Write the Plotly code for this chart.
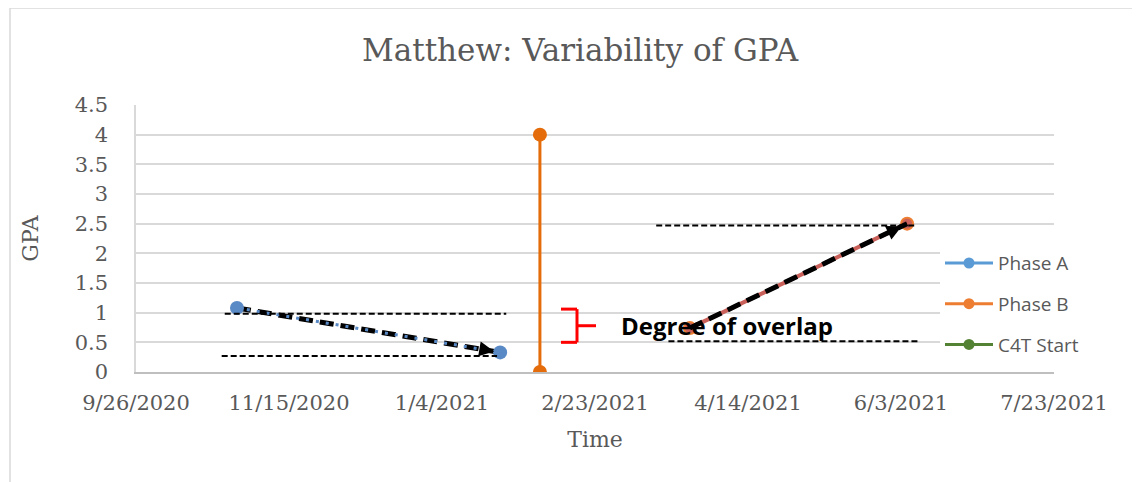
import plotly.graph_objects as go
import pandas as pd

# ---------------- data ----------------
phase_a_dates = ["2020-10-29", "2021-01-23"]
phase_a_gpa = [1.08, 0.33]

phase_b_dates = ["2021-02-05", "2021-02-05"]
phase_b_gpa = [0, 4]

c4t_dates = ["2021-03-26", "2021-06-05"]
c4t_gpa = [0.74, 2.5]

# variability bands (dashed reference lines)
a_band_upper_dates = ["2020-10-25", "2021-01-25"]
a_band_upper = 0.98
a_band_lower_dates = ["2020-10-24", "2021-01-22"]
a_band_lower = 0.27
b_band_upper_dates = ["2021-03-15", "2021-06-08"]
b_band_upper = 2.47
b_band_lower_dates = ["2021-03-19", "2021-06-09"]
b_band_lower = 0.52

overlap_top = 1.06
overlap_bottom = 0.5

x_tick_dates = ["2020-09-26", "2020-11-15", "2021-01-04", "2021-02-23",
                "2021-04-14", "2021-06-03", "2021-07-23"]
x_tick_labels = ["9/26/2020", "11/15/2020", "1/4/2021", "2/23/2021",
                 "4/14/2021", "6/3/2021", "7/23/2021"]
y_ticks = [0, 0.5, 1, 1.5, 2, 2.5, 3, 3.5, 4, 4.5]

# ---------------- layout geometry ----------------
OFF = 8  # page body margin
W, H = 1140 - OFF, 482 - OFF
ML = 136 - OFF
MT = 105 - OFF
PLOT_R = 1054 - OFF
PLOT_B = 371.7 - OFF
MR = W - PLOT_R
MB = H - PLOT_B
PW, PH = PLOT_R - ML, PLOT_B - MT
x0d, x1d = pd.Timestamp(x_tick_dates[0]), pd.Timestamp(x_tick_dates[-1])
ymax = 4.5
px_per_day = PW / (x1d - x0d).days
px_per_unit = PH / ymax


def px(x):  # reference pixel x -> paper x
    return (x - OFF - ML) / PW


def py(y):  # reference pixel y -> paper y
    return (PLOT_B - (y - OFF)) / PH


GRAY = "#595959"
SERIF = "DejaVu Serif"
SANS = "Open Sans"

BLUE = "#5A8AC6"
ORANGE = "#E46C0A"
RED = "#C9605A"
GREEN = "#548235"

fig = go.Figure()

# black dashed arrow shaft for phase A (beneath blue dotted line)
fig.add_trace(go.Scatter(x=phase_a_dates, y=phase_a_gpa, mode="lines",
                         line=dict(color="black", width=5, dash="14px,7px"),
                         showlegend=False, hoverinfo="skip"))
fig.add_trace(go.Scatter(x=phase_a_dates, y=phase_a_gpa, mode="lines+markers",
                         line=dict(color=BLUE, width=3, dash="3px,7px"),
                         marker=dict(color=BLUE, size=14),
                         showlegend=False, name="Phase A"))
fig.add_trace(go.Scatter(x=phase_b_dates, y=phase_b_gpa, mode="lines+markers",
                         line=dict(color=ORANGE, width=3),
                         marker=dict(color=ORANGE, size=14),
                         showlegend=False, name="Phase B"))
fig.add_trace(go.Scatter(x=c4t_dates, y=c4t_gpa, mode="lines+markers",
                         line=dict(color=RED, width=4),
                         marker=dict(color=RED, size=12, line=dict(color="#ED7D31", width=2)),
                         showlegend=False, name="C4T Start"))
fig.add_trace(go.Scatter(x=c4t_dates, y=c4t_gpa, mode="lines",
                         line=dict(color="black", width=5, dash="14px,7px"),
                         showlegend=False, hoverinfo="skip"))

# legend entries
for nm, col, grp in [("Phase A", "#5B9BD5", "a"), ("Phase B", "#ED7D31", "b"), ("C4T Start", GREEN, "c")]:
    fig.add_trace(go.Scatter(x=[None], y=[None], mode="lines+markers", name=nm,
                             line=dict(color=col, width=3),
                             marker=dict(color=col, size=11),
                             legendgroup=grp))

# dashed band lines
shapes = []
for dates, lvl in [(a_band_upper_dates, a_band_upper), (a_band_lower_dates, a_band_lower),
                   (b_band_upper_dates, b_band_upper), (b_band_lower_dates, b_band_lower)]:
    shapes.append(dict(type="line", xref="x", yref="y", x0=dates[0], x1=dates[1], y0=lvl, y1=lvl,
                       line=dict(color="black", width=2, dash="6px,3px"), layer="above"))

# red brace (degree of overlap)
bx0, bx1, bx2 = px(561), px(577), px(596)
ymid = (overlap_top + overlap_bottom) / 2
for a, b, c, d in [(bx0, bx1, overlap_top, overlap_top), (bx1, bx1, overlap_top, overlap_bottom),
                   (bx0, bx1, overlap_bottom, overlap_bottom), (bx1, bx2, ymid, ymid)]:
    shapes.append(dict(type="line", xref="paper", yref="y", x0=a, x1=b, y0=c, y1=d,
                       line=dict(color="red", width=3)))

# chart border
shapes.append(dict(type="rect", xref="paper", yref="paper",
                   x0=px(10), x1=px(1180), y0=py(520), y1=py(8),
                   line=dict(color="#D9D9D9", width=1.5), layer="below"))


def head(dates, vals):
    d0 = (pd.Timestamp(dates[0]) - x0d).days * px_per_day
    d1 = (pd.Timestamp(dates[1]) - x0d).days * px_per_day
    dx = d1 - d0
    dy = -(vals[1] - vals[0]) * px_per_unit
    ln = (dx ** 2 + dy ** 2) ** 0.5
    k = 20
    return dict(x=dates[1], y=vals[1], xref="x", yref="y", ax=-k * dx / ln, ay=-k * dy / ln,
                showarrow=True, arrowhead=2, arrowsize=1, arrowwidth=3, arrowcolor="black",
                standoff=6, text="")


annotations = [
    head(phase_a_dates, phase_a_gpa),
    head(c4t_dates, c4t_gpa),
    dict(x=px(727), y=ymid, xref="paper", yref="y", text="<b>Degree of overlap</b>",
         showarrow=False, font=dict(family=SANS, size=24, color="black")),
]

fig.update_layout(
    width=W, height=H,
    margin=dict(l=ML, r=MR, t=MT, b=MB, autoexpand=False),
    paper_bgcolor="white", plot_bgcolor="white",
    title=dict(text="Matthew: Variability of GPA", x=(580 - OFF) / W, xref="container", xanchor="center",
               y=1 - (50 - OFF) / H, yref="container", yanchor="middle",
               font=dict(family=SERIF, size=31, color=GRAY)),
    shapes=shapes,
    annotations=annotations,
    legend=dict(x=px(940), y=py(244), xanchor="left", yanchor="top",
                bgcolor="white", font=dict(family=SANS, size=19, color=GRAY),
                tracegroupgap=13, itemwidth=48),
    xaxis=dict(type="date", range=[x_tick_dates[0], x_tick_dates[-1]],
               tickvals=x_tick_dates, ticktext=x_tick_labels,
               ticks="outside", ticklen=11, tickcolor="rgba(0,0,0,0)",
               showgrid=False, showline=True, linecolor="#BFBFBF", linewidth=1.5,
               tickfont=dict(family=SERIF, size=21, color=GRAY),
               title=dict(text="Time", font=dict(family=SERIF, size=22, color=GRAY), standoff=18),
               zeroline=False, automargin=False),
    yaxis=dict(range=[0, ymax], tickvals=y_ticks,
               ticks="outside", ticklen=22, tickcolor="rgba(0,0,0,0)",
               showgrid=True, gridcolor="#D9D9D9", gridwidth=1.5,
               showline=True, linecolor="#D9D9D9", linewidth=1.5,
               tickfont=dict(family=SERIF, size=21, color=GRAY),
               title=dict(text="GPA", font=dict(family=SERIF, size=22, color=GRAY), standoff=30),
               zeroline=False, automargin=False),
    showlegend=True,
)

fig.write_html("out.html")
